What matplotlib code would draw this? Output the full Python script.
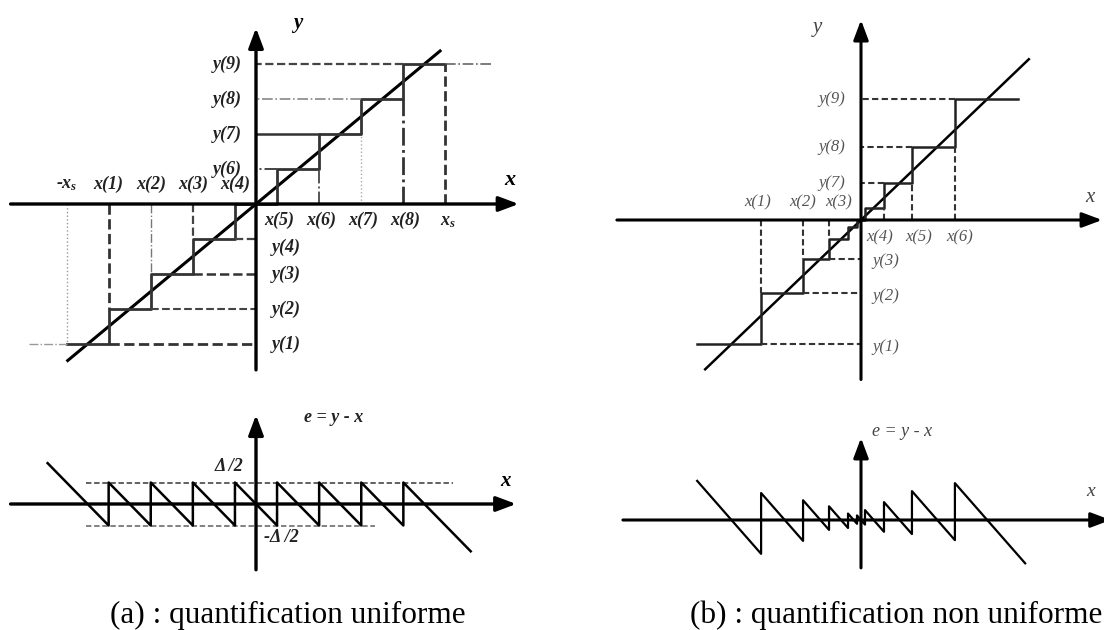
import matplotlib
matplotlib.use("Agg")
import matplotlib.pyplot as plt

plt.rcParams.update({
    "font.family": "Liberation Serif",
    "mathtext.fontset": "custom",
    "mathtext.it": "Liberation Serif:italic:bold",
    "mathtext.rm": "Liberation Serif:bold",
})

W, H = 1104, 630

# (a) uniform quantizer: decision thresholds x(1)..x(8), levels y(1)..y(9)
A_THRESH = [-3.5, -2.5, -1.5, -0.5, 0.5, 1.5, 2.5, 3.5]
A_LEVELS = [-4, -3, -2, -1, 0, 1, 2, 3, 4]
A_X_LABELS = ["x(1)", "x(2)", "x(3)", "x(4)", "x(5)", "x(6)", "x(7)", "x(8)"]
A_Y_LABELS = ["y(1)", "y(2)", "y(3)", "y(4)", None, "y(6)", "y(7)", "y(8)", "y(9)"]
A_XS = 4.5
A_DIAG = (-4.5, 4.4)
A_ERR_RANGE = (-4.95, 5.1)
A_HALF_STEP = 0.5

# (b) non-uniform quantizer: finer steps near zero
B_THRESH = [-3.0, -1.74, -0.96, -0.39, -0.12, 0.12, 0.69, 1.53, 2.82]
B_LEVELS = [-3.89, -2.29, -1.22, -0.6, -0.22, 0.0, 0.38, 1.16, 2.29, 3.79]
B_X_LABELS = ["x(1)", "x(2)", "x(3)", None, None, None, "x(4)", "x(5)", "x(6)"]
B_Y_LABELS = ["y(1)", "y(2)", "y(3)", None, None, None, None, "y(7)", "y(8)", "y(9)"]
B_ENDS = (-4.92, 4.71)
B_DIAG = (-4.68, 5.04)
B_ERR_RANGE = (-4.92, 4.93)


def panel_axes(fig, origin, scale, box):
    """Axes whose data origin sits at pixel `origin`, `scale` px per unit."""
    ox, oy = origin
    sx, sy = scale
    l, t, r, b = box
    ax = fig.add_axes([l / W, 1 - b / H, (r - l) / W, (b - t) / H])
    ax.set_xlim((l - ox) / sx, (r - ox) / sx)
    ax.set_ylim((oy - b) / sy, (oy - t) / sy)
    ax.axis("off")
    return ax


def arrow_axes(ax, xr, yr, lw=2.4):
    style = "-|>,head_length=0.8,head_width=0.3"
    for start, end in [((xr[0], 0), (xr[1], 0)), ((0, yr[0]), (0, yr[1]))]:
        ax.annotate("", xy=end, xytext=start, annotation_clip=False,
                    arrowprops=dict(arrowstyle=style, lw=lw, color="k",
                                    shrinkA=0, shrinkB=0, mutation_scale=15))


def staircase(thresh, levels, lo, hi):
    xs, ys = [lo], [levels[0]]
    for t, l0, l1 in zip(thresh, levels[:-1], levels[1:]):
        xs += [t, t]
        ys += [l0, l1]
    xs.append(hi)
    ys.append(levels[-1])
    return xs, ys


def error_curve(thresh, levels, lo, hi):
    edges = [lo] + list(thresh) + [hi]
    xs, es = [], []
    for a, b, lev in zip(edges[:-1], edges[1:], levels):
        xs += [a, b]
        es += [lev - a, lev - b]
    return xs, es


fig = plt.figure(figsize=(W / 100, H / 100), dpi=100)
fig.patch.set_facecolor("white")

lab_a = dict(fontsize=13, fontweight="bold", fontstyle="italic", color="#222")
lab_b = dict(fontsize=12, fontstyle="italic", color="#555")

# ---------------- (a) characteristic ----------------
ax = panel_axes(fig, (256, 204), (42.1, 35), (0, 0, 560, 390))
arrow_axes(ax, (-5.83, 6.24), (-4.74, 5.03))
ax.plot(A_DIAG, A_DIAG, color="k", lw=2.2, solid_capstyle="butt")
sx, sy = staircase(A_THRESH, A_LEVELS, -A_XS, A_XS)
ax.plot(sx, sy, color="#333", lw=2.0)

# extensions beyond the saturation points
ax.plot([-5.4, -A_XS], [A_LEVELS[0]] * 2, ls="-.", lw=1.0, color="#999")
ax.plot([A_XS, 5.6], [A_LEVELS[-1]] * 2, ls="-.", lw=1.2, color="#666")

v_styles = [("--", 2.0, "#333"), ("-.", 1.0, "#777"), ("--", 1.6, "#444"), None,
            None, ("-.", 1.4, "#555"), (":", 1.0, "#aaa"), ("-.", 2.0, "#333")]
for i, t in enumerate(A_THRESH):
    if v_styles[i] is None:
        continue
    ls, lw, c = v_styles[i]
    top = A_LEVELS[i + 1] if t < 0 else A_LEVELS[i]
    ax.plot([t, t], [0, top], ls=ls, lw=lw, color=c)
ax.plot([-A_XS, -A_XS], [0, A_LEVELS[0]], ls=":", lw=1.0, color="#999")
ax.plot([A_XS, A_XS], [0, A_LEVELS[-1]], ls="--", lw=2.0, color="#333")

h_styles = [("--", 2.0, "#333"), ("--", 1.5, "#444"), ("--", 1.8, "#333"),
            ("--", 1.6, "#444"), None, ("-.", 1.4, "#444"), ("-", 1.8, "#333"),
            ("-.", 1.2, "#888"), ("--", 1.6, "#444")]
for i, lev in enumerate(A_LEVELS):
    if h_styles[i] is None:
        continue
    ls, lw, c = h_styles[i]
    edge = A_THRESH[i - 1] if lev > 0 else A_THRESH[i]
    ax.plot([edge, 0], [lev, lev], ls=ls, lw=lw, color=c)

for t, name in zip(A_THRESH, A_X_LABELS):
    if t < 0:
        ax.text(t, 0.55, name, ha="center", va="center", **lab_a)
    else:
        ax.text(t + 0.05, -0.46, name, ha="center", va="center", **lab_a)
ax.text(-A_XS, 0.55, "-$x_s$", ha="center", va="center", **lab_a)
ax.text(A_XS + 0.05, -0.5, "$x_s$", ha="center", va="center", **lab_a)
for lev, name in zip(A_LEVELS, A_Y_LABELS):
    if name is None:
        continue
    if lev > 0:
        ax.text(-0.33, lev, name, ha="right", va="center", **lab_a)
    else:
        dy = -0.25 if lev == -1 else 0
        ax.text(0.38, lev + dy, name, ha="left", va="center", **lab_a)
ax.text(6.02, 0.69, "x", ha="center", va="center", fontsize=16,
        fontweight="bold", fontstyle="italic")
ax.text(1.0, 5.17, "y", ha="center", va="center", fontsize=15,
        fontweight="bold", fontstyle="italic")

# ---------------- (a) quantization error ----------------
ax = panel_axes(fig, (256, 504), (42.1, 43), (0, 395, 560, 590))
arrow_axes(ax, (-5.83, 6.18), (-1.53, 2.07))
ax.plot([-4.04, 4.67], [A_HALF_STEP] * 2, ls=(0, (3, 1.5)), lw=1.3, color="#555")
ax.plot([-4.04, 2.83], [-A_HALF_STEP] * 2, ls=(0, (3, 1.5)), lw=1.3, color="#777")
ex, ey = error_curve(A_THRESH, A_LEVELS, *A_ERR_RANGE)
ax.plot(ex, ey, color="k", lw=1.8)
ax.text(1.85, 2.0, "e = y - x", ha="center", va="center", **lab_a)
ax.text(-0.65, 0.88, "Δ /2", ha="center", va="center", **lab_a)
ax.text(0.6, -0.79, "-Δ /2", ha="center", va="center", **lab_a)
ax.text(5.93, 0.53, "x", ha="center", va="center", fontsize=15,
        fontweight="bold", fontstyle="italic")

# ---------------- (b) characteristic ----------------
ax = panel_axes(fig, (861, 220), (33.3, 31.9), (600, 0, 1104, 390))
arrow_axes(ax, (-7.33, 7.24), (-5.0, 6.27), lw=2.2)
ax.plot(B_DIAG, B_DIAG, color="k", lw=1.8)
sx, sy = staircase(B_THRESH, B_LEVELS, *B_ENDS)
ax.plot(sx, sy, color="#222", lw=1.8)

dash_b = dict(ls=(0, (3, 1.6)), lw=1.5, color="#333")
for i, (t, name) in enumerate(zip(B_THRESH, B_X_LABELS)):
    if name is None:
        continue
    top = B_LEVELS[i + 1] if t < 0 else B_LEVELS[i]
    ax.plot([t, t], [0, top], **dash_b)
for i, (lev, name) in enumerate(zip(B_LEVELS, B_Y_LABELS)):
    if name is None:
        continue
    edge = B_THRESH[i - 1] if lev > 0 else B_THRESH[i]
    ax.plot([edge, 0], [lev, lev], **dash_b)

x_nudge = {"x(1)": -0.12, "x(3)": 0.3, "x(4)": -0.12, "x(5)": 0.2, "x(6)": 0.15}
for t, name in zip(B_THRESH, B_X_LABELS):
    if name is None:
        continue
    y = 0.55 if t < 0 else -0.56
    ax.text(t + x_nudge.get(name, 0), y, name, ha="center", va="center", **lab_b)
for lev, name in zip(B_LEVELS, B_Y_LABELS):
    if name is None:
        continue
    if lev > 0:
        ax.text(-0.48, lev, name, ha="right", va="center", **lab_b)
    else:
        ax.text(0.33, lev - 0.08, name, ha="left", va="center", **lab_b)
ax.text(6.88, 0.69, "x", ha="center", va="center", fontsize=15,
        fontstyle="italic", color="#444")
ax.text(-1.32, 6.05, "y", ha="center", va="center", fontsize=15,
        fontstyle="italic", color="#444")

# ---------------- (b) quantization error ----------------
ax = panel_axes(fig, (861, 520), (33.3, 38), (600, 395, 1104, 590))
arrow_axes(ax, (-7.15, 7.5), (-1.26, 2.16), lw=2.2)
ex, ey = error_curve(B_THRESH, B_LEVELS, *B_ERR_RANGE)
ax.plot(ex, ey, color="k", lw=1.6)
ax.text(0.33, 2.32, "e = y - x", ha="left", va="center", fontsize=13,
        fontstyle="italic", color="#444")
ax.text(6.88, 0.74, "x", ha="center", va="center", fontsize=14,
        fontstyle="italic", color="#444")

# captions
fig.text(288 / W, 1 - 615 / H, "(a) : quantification uniforme",
         ha="center", va="center", fontsize=22.5)
fig.text(1102 / W, 1 - 615 / H, "(b) : quantification non uniforme",
         ha="right", va="center", fontsize=22.5)

fig.savefig("out.png", dpi=100, facecolor="white")
